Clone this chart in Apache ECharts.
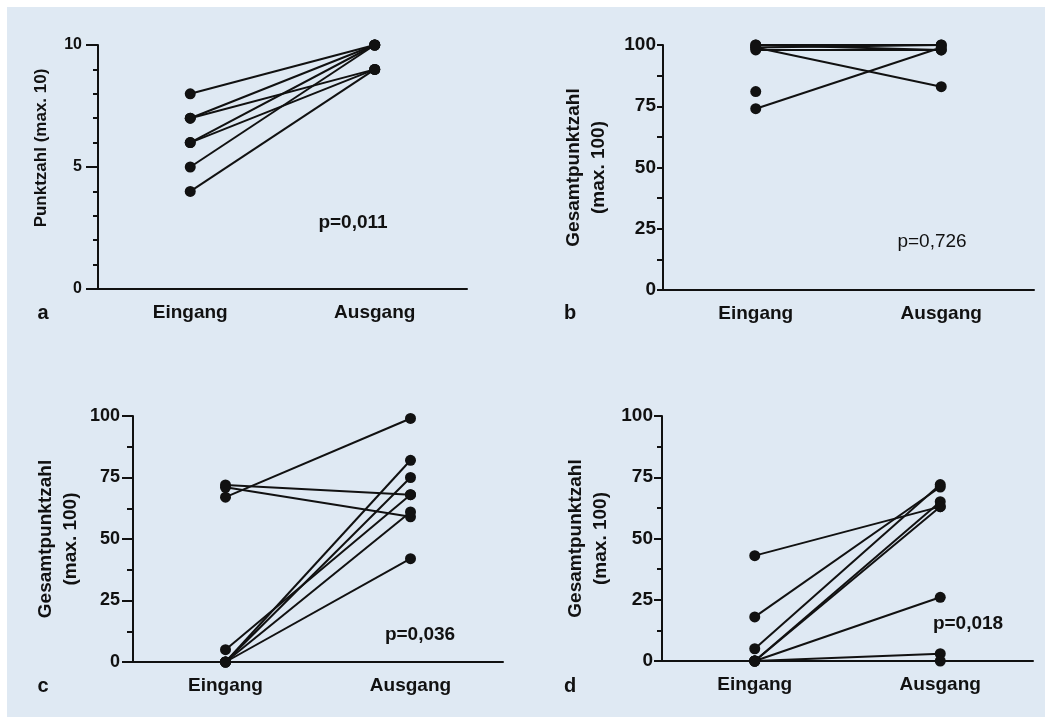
<!DOCTYPE html>
<html>
<head>
<meta charset="utf-8">
<script src="https://cdn.jsdelivr.net/npm/echarts@6/dist/echarts.min.js"></script>
<style>
html,body{margin:0;padding:0;background:#ffffff;}
#c{width:1052px;height:724px;}
</style>
</head>
<body>
<div id="c"></div>
<script>
// ---- data ----
var categories = ['Eingang', 'Ausgang'];

// panel a (Punktzahl, max. 10)
var aEingang = [8, 7, 7, 6, 6, 5, 4];
var aAusgang = [10, 10, 9, 10, 9, 10, 9];

// panel b
var bEingang = [100, 99, 98, 100, 99, 74, 81];
var bAusgang = [100, 100, 98, 98, 83, 99, null];

// panel c
var cEingang = [67, 72, 71, 0, 0, 5, 0, 0];
var cAusgang = [99, 68, 59, 82, 75, 68, 61, 42];

// panel d
var dEingang = [43, 18, 5, 0, 0, 0, 0, 0];
var dAusgang = [63, 71, 72, 65, 63, 26, 3, 0];

var pValues = ['p=0,011', 'p=0,726', 'p=0,036', 'p=0,018'];
var panelLetters = ['a', 'b', 'c', 'd'];
var yNames = ['Punktzahl (max. 10)', 'Gesamtpunktzahl\n(max. 100)', 'Gesamtpunktzahl\n(max. 100)', 'Gesamtpunktzahl\n(max. 100)'];

// ---- layout / style ----
var FONT = '"Liberation Sans", Arial, sans-serif';
var INK = '#111111';
var grids = [
  {left: 98, top: 45, width: 369, height: 244},
  {left: 663, top: 45, width: 371, height: 245},
  {left: 133, top: 416, width: 370, height: 246},
  {left: 662, top: 416, width: 371, height: 245}
];
var style = [
  {nameGap: 45, nameSize: 17, namePad: [0, 0, 0, 38], tickFont: 16, tickLen: 12, minorLen: 5, margin: 16},
  {nameGap: 52, nameSize: 19, namePad: [0, 0, 0, 0], tickFont: 19, tickLen: 6, minorLen: 6, margin: 7},
  {nameGap: 50, nameSize: 19, namePad: [0, 0, 0, 0], tickFont: 18, tickLen: 11, minorLen: 6, margin: 13},
  {nameGap: 49, nameSize: 19, namePad: [0, 0, 0, 0], tickFont: 19, tickLen: 8, minorLen: 5, margin: 9}
];

var panels = [
  {e: aEingang, o: aAusgang, max: 10, interval: 5, minorSplit: 5},
  {e: bEingang, o: bAusgang, max: 100, interval: 25, minorSplit: 2},
  {e: cEingang, o: cAusgang, max: 100, interval: 25, minorSplit: 2},
  {e: dEingang, o: dAusgang, max: 100, interval: 25, minorSplit: 2}
];

var xAxes = [], yAxes = [], series = [];
panels.forEach(function (p, i) {
  var s = style[i];
  xAxes.push({
    type: 'category', gridIndex: i, data: categories, boundaryGap: true,
    axisLine: {lineStyle: {color: INK, width: 2}},
    axisTick: {alignWithLabel: true, length: 9, lineStyle: {color: INK, width: 2}},
    axisLabel: {color: INK, fontFamily: FONT, fontWeight: 'bold', fontSize: 19, margin: 14},
    splitLine: {show: false}
  });
  yAxes.push({
    type: 'value', gridIndex: i, min: 0, max: p.max, interval: p.interval,
    name: yNames[i], nameLocation: 'middle', nameGap: s.nameGap,
    nameTextStyle: {color: INK, fontFamily: FONT, fontWeight: 'bold', fontSize: s.nameSize,
      lineHeight: s.nameSize + 6, align: 'center', padding: s.namePad},
    axisLine: {show: true, lineStyle: {color: INK, width: 2}},
    axisTick: {show: true, length: s.tickLen, lineStyle: {color: INK, width: 2}},
    minorTick: {show: true, splitNumber: p.minorSplit, length: s.minorLen, lineStyle: {color: INK, width: 2}},
    axisLabel: {color: INK, fontFamily: FONT, fontWeight: 'bold', fontSize: s.tickFont, margin: s.margin},
    splitLine: {show: false}, minorSplitLine: {show: false}
  });
  for (var k = 0; k < p.e.length; k++) {
    series.push({
      type: 'line', xAxisIndex: i, yAxisIndex: i,
      data: [p.e[k], p.o[k]],
      symbol: 'circle', symbolSize: 11, clip: false,
      connectNulls: false, animation: false,
      lineStyle: {color: INK, width: 2},
      itemStyle: {color: INK},
      emphasis: {disabled: true}, silent: true, z: 5
    });
  }
});

var pPos = [[353, 223, 'bold'], [932, 242, 'normal'], [420, 635, 'bold'], [968, 624, 'bold']];
var letterPos = [[43, 313], [570, 313], [43, 686], [570, 686]];

var graphic = [{
  type: 'rect', shape: {x: 7, y: 7, width: 1038, height: 710},
  style: {fill: '#dfe9f3'}, z: -10, silent: true
}];
pValues.forEach(function (t, i) {
  graphic.push({
    type: 'text', x: pPos[i][0], y: pPos[i][1], z: 10,
    style: {text: t, fill: INK, font: pPos[i][2] + ' 19px ' + FONT, textAlign: 'center', textVerticalAlign: 'middle'}
  });
});
panelLetters.forEach(function (t, i) {
  graphic.push({
    type: 'text', x: letterPos[i][0], y: letterPos[i][1], z: 10,
    style: {text: t, fill: INK, font: 'bold 20px ' + FONT, textAlign: 'center', textVerticalAlign: 'middle'}
  });
});

var chart = echarts.init(document.getElementById('c'), null, {renderer: 'canvas'});
chart.setOption({
  backgroundColor: '#ffffff',
  animation: false,
  grid: grids,
  xAxis: xAxes,
  yAxis: yAxes,
  series: series,
  graphic: graphic
});
</script>
</body>
</html>
